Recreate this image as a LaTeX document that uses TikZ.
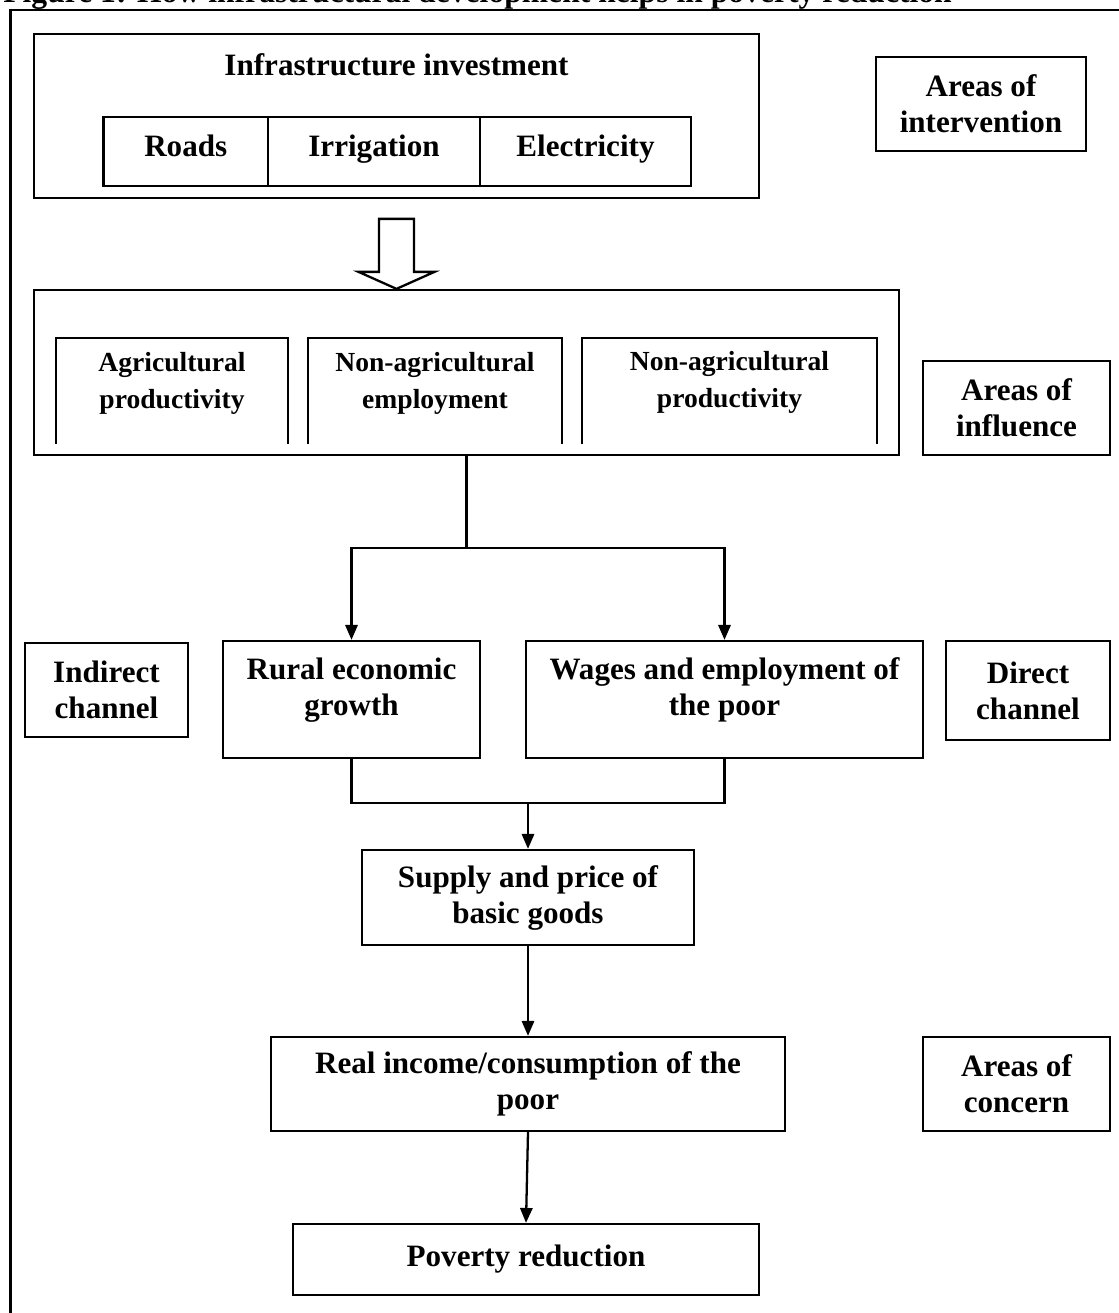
\documentclass[tikz,border=0pt]{standalone}
\usepackage{fontspec}
\setmainfont{Liberation Serif}
\usetikzlibrary{arrows.meta}
\usetikzlibrary{calc}

\newcommand{\boxfont}{\fontsize{17.7}{20.5}\selectfont\bfseries}
\newcommand{\cellfont}{\fontsize{15.7}{21}\selectfont\bfseries}

\tikzset{box/.style = {draw, line width=1.3pt, align=center, inner sep=0pt, font=\boxfont}}
\tikzset{cell/.style = {box, text height=11pt, text depth=5.3pt}}
\tikzset{txt/.style = {align=center, inner sep=0pt, font=\boxfont}}
\tikzset{subtxt/.style = {align=center, inner sep=0pt, font=\cellfont}}
\tikzset{wh/.style 2 args = {minimum width=#1*0.02cm, minimum height=#2*0.02cm}}
\tikzset{arr/.style = {line width=1.3pt, -{Triangle[length=8.5pt, width=7pt]}}}

\begin{document}
\begin{tikzpicture}[x=0.02cm, y=-0.02cm]
    \useasboundingbox (0, 0) rectangle (1119, 1313);
    \draw [line width=1.3pt] (1130, 10) -- (10.5, 10) -- (10.5, 1330);
    \node [txt, font=\fontsize{18}{21}\selectfont\bfseries, anchor=base west] (caption) at (3, 2.7)
        {Figure 1: How infrastructural development helps in poverty reduction};

    % intervention
    \node [box, wh={725}{164}] (infra) at (396.5, 116) {};
    \node [txt, anchor=base] (infratitle) at (396.5, 75.5) {Infrastructure investment};
    \node [cell, wh={164.5}{69}] (roads) at (185.75, 151.5) {Roads};
    \node [cell, wh={212}{69}] (irrig) at (374, 151.5) {Irrigation};
    \node [cell, wh={211}{69}] (elec) at (585.5, 151.5) {Electricity};
    \node [box, wh={210}{94}] (intervention) at (981, 104) {Areas of\\intervention};

    % influence
    \node [box, wh={865}{165}] (infl) at (466.5, 372.5) {};
    \node [subtxt] (agri) at (172, 383) {Agricultural\\productivity};
    \node [subtxt] (nonagemp) at (435, 383) {Non-agricultural\\employment};
    \node [subtxt] (nonagprod) at (729.5, 382) {Non-agricultural\\productivity};
    \draw [line width=1pt] (56, 444) |- (288, 338) -- (288, 444);
    \draw [line width=1pt] (308, 444) |- (562, 338) -- (562, 444);
    \draw [line width=1pt] (582, 444) |- (877, 338) -- (877, 444);
    \node [box, wh={187}{94}] (influence) at (1016.5, 408) {Areas of\\influence};

    \coordinate (tip) at (infra.south |- infl.north);
    \draw [line width=1.3pt, fill=white] (tip) -- +(-38, -17) -- +(-17.5, -17) -- +(-17.5, -70)
        -- +(17.5, -70) -- +(17.5, -17) -- +(38, -17) -- cycle;

    % channels
    \node [box, wh={163}{94}] (indirect) at (106.5, 690) {Indirect\\channel};
    \node [box, wh={257}{117}] (rural) at (351.5, 699.5) {};
    \node [txt] (ruraltext) at (351.5, 690) {Rural economic\\growth};
    \node [box, wh={397}{117}] (wages) at (724.5, 699.5) {};
    \node [txt] (wagestext) at (724.5, 690) {Wages and employment of\\the poor};
    \node [box, wh={164}{99}] (direct) at (1028, 690.5) {Direct\\channel};

    \draw [line width=1.3pt] (infl.south) -- ++(0, 92) coordinate (split);
    \draw [arr] (split) -| (rural.north);
    \draw [arr] (split) -| (wages.north);

    % outcomes
    \node [box, wh={332}{95}] (supply) at (528, 897.5) {Supply and price of\\basic goods};
    \coordinate (join) at ($(supply.north)+(0, -46)$);
    \draw [line width=1.3pt] (rural.south) |- (join) -| (wages.south);
    \draw [arr] (join) -- (supply.north);

    \node [box, wh={514}{94}] (real) at (528, 1084) {Real income/consumption of the\\poor};
    \node [box, wh={187}{94}] (concern) at (1016.5, 1084) {Areas of\\concern};
    \node [box, wh={466}{71}] (poverty) at (526, 1259.5) {Poverty reduction};
    \draw [arr] (supply.south) -- (real.north);
    \draw [arr] (real.south) -- (poverty.north);
\end{tikzpicture}
\end{document}
